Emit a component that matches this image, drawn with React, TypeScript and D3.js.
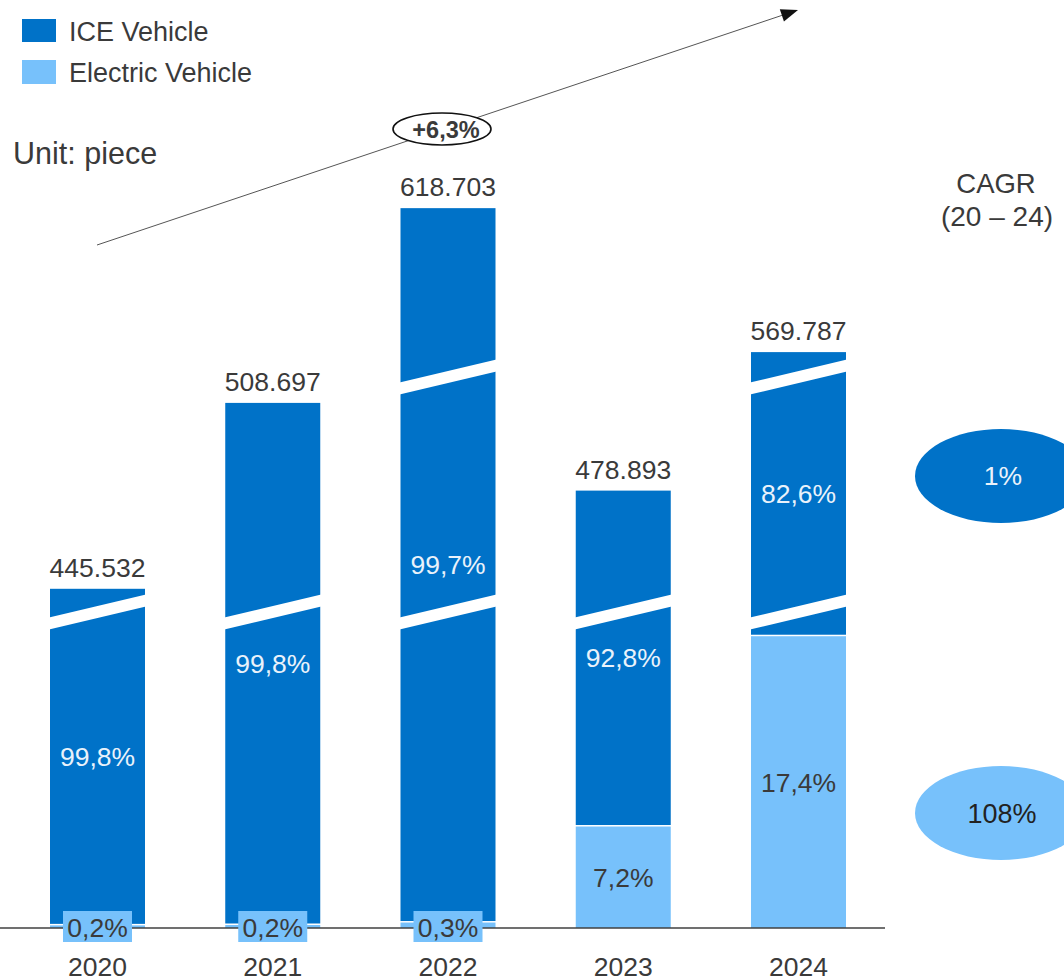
import React from "react";
import * as d3 from "d3";

// ---- data ----
const years = ["2020", "2021", "2022", "2023", "2024"];
const totals = [445532, 508697, 618703, 478893, 569787];
const iceShare = [99.8, 99.8, 99.7, 92.8, 82.6];
const evShare = [0.2, 0.2, 0.3, 7.2, 17.4];
const seriesNames = ["ICE Vehicle", "Electric Vehicle"];
const cagrValues = [1, 108];
const overallGrowth = 6.3;
// broken value axis: value ranges collapsed into a break band
const axisBreaks: [number, number][] = [
  [105335, 439685],
  [515458, 563368],
];

const W = 1064;
const H = 980;
const ICE = "#0072C8";
const EV = "#77C1FB";
const TXT = "#3a3a3a";
const FONT = "'Liberation Sans', Arial, sans-serif";
const FS = 26.5;

const locale = d3.formatLocale({
  decimal: ",",
  thousands: ".",
  grouping: [3],
  currency: ["", ""],
});
const fmtInt = locale.format(",d");
const fmtPct = (v: number) => locale.format(".1f")(v) + "%";
const fmtPct0 = (v: number) => locale.format("d")(v) + "%";

// broken-axis y scale
const baseline = 928;
const pxPerUnit = 0.002943;
const breakGap = 12;
const maxV = 650000;
const domain: number[] = [0];
const range: number[] = [baseline];
{
  let prevV = 0;
  let prevY = baseline;
  axisBreaks.forEach(([s, e]) => {
    const ys = prevY - (s - prevV) * pxPerUnit;
    domain.push(s, e);
    range.push(ys, ys - breakGap);
    prevV = e;
    prevY = ys - breakGap;
  });
  domain.push(maxV);
  range.push(prevY - (maxV - prevV) * pxPerUnit);
}
const y = d3.scaleLinear().domain(domain).range(range);
const x = d3.scalePoint<string>().domain(years).range([97.5, 798.5]);
const barW = 95;
const slant = 11.5;

export default function App() {
  const arrowStart = [97, 245];
  const arrowEnd = [798, 10];
  const dx = arrowEnd[0] - arrowStart[0];
  const dy = arrowEnd[1] - arrowStart[1];
  const len = Math.hypot(dx, dy);
  const ux = dx / len, uy = dy / len;
  const ah = 17, aw = 6.5;
  const bx = arrowEnd[0] - ux * ah, by = arrowEnd[1] - uy * ah;
  const arrowHead = [
    [arrowEnd[0], arrowEnd[1]],
    [bx - uy * aw, by + ux * aw],
    [bx + uy * aw, by - ux * aw],
  ];

  return (
    <svg
      width={W}
      height={H}
      style={{ position: "absolute", left: 0, top: 0, background: "#fff" }}
      fontFamily={FONT}
    >
      {/* legend */}
      <rect x={22} y={19} width={34} height={23} fill={ICE} />
      <text x={69} y={41} fontSize={27} fill={TXT}>{seriesNames[0]}</text>
      <rect x={22} y={60} width={34} height={24} fill={EV} />
      <text x={69} y={82} fontSize={27} fill={TXT}>{seriesNames[1]}</text>
      <text x={13} y={164} fontSize={30.5} fill={TXT}>Unit: piece</text>

      {/* trend arrow */}
      <line
        x1={arrowStart[0]}
        y1={arrowStart[1]}
        x2={bx}
        y2={by}
        stroke="#555"
        strokeWidth={1}
      />
      <polygon points={arrowHead.map((p) => p.join(",")).join(" ")} fill="#111" />
      <ellipse cx={442} cy={129} rx={49} ry={16} fill="#fff" stroke="#111" strokeWidth={1.6} />
      <text x={446} y={137.5} fontSize={23.5} fontWeight="bold" fill={TXT} textAnchor="middle">
        {"+" + locale.format(".1f")(overallGrowth) + "%"}
      </text>

      {/* bars */}
      {years.map((yr, i) => {
        const cx = x(yr)!;
        const xl = cx - barW / 2;
        const total = totals[i];
        const evVal = (total * evShare[i]) / 100;
        const yTop = y(total);
        const yEv = y(evVal);
        const evH = baseline - yEv;
        const iceBottom = yEv - 1.5;
        return (
          <g key={yr}>
            <rect x={xl} y={yEv} width={barW} height={evH} fill={EV} />
            <rect x={xl} y={yTop} width={barW} height={iceBottom - yTop} fill={ICE} />
            {axisBreaks
              .filter(([, e]) => total > e)
              .map(([s, e], j) => {
                const yb = y(s);
                const yt = y(e);
                const pts = [
                  [xl - 1, yt + slant],
                  [xl + barW + 1, yt - slant],
                  [xl + barW + 1, yb - slant],
                  [xl - 1, yb + slant],
                ];
                return (
                  <polygon key={j} points={pts.map((p) => p.join(",")).join(" ")} fill="#fff" />
                );
              })}
            <text x={cx} y={yTop - 12} fontSize={FS} fill={TXT} textAnchor="middle">
              {fmtInt(total)}
            </text>
            <text
              x={cx}
              y={(yTop + iceBottom) / 2 + 9.5}
              fontSize={FS}
              fill="#EAF2FB"
              textAnchor="middle"
            >
              {fmtPct(iceShare[i])}
            </text>
          </g>
        );
      })}

      {/* axis line */}
      <line x1={0} x2={885} y1={baseline} y2={baseline} stroke="#404040" strokeWidth={1.5} />

      {/* EV labels */}
      {years.map((yr, i) => {
        const cx = x(yr)!;
        const evVal = (totals[i] * evShare[i]) / 100;
        const yEv = y(evVal);
        const evH = baseline - yEv;
        if (evH > 30) {
          return (
            <text key={yr} x={cx} y={(yEv + baseline) / 2 + 9.5} fontSize={FS} fill={TXT} textAnchor="middle">
              {fmtPct(evShare[i])}
            </text>
          );
        }
        return (
          <g key={yr}>
            <rect x={cx - 34.5} y={911} width={69} height={31} fill={EV} />
            <text x={cx} y={936.5} fontSize={FS} fill={TXT} textAnchor="middle">
              {fmtPct(evShare[i])}
            </text>
          </g>
        );
      })}

      {/* year labels */}
      {years.map((yr) => (
        <text key={yr} x={x(yr)!} y={976} fontSize={FS} fill={TXT} textAnchor="middle">
          {yr}
        </text>
      ))}

      {/* CAGR */}
      <text x={996} y={193} fontSize={27.5} fill={TXT} textAnchor="middle">CAGR</text>
      <text x={997} y={226} fontSize={28} fill={TXT} textAnchor="middle">(20 – 24)</text>
      <ellipse cx={1001} cy={476} rx={86} ry={47} fill={ICE} />
      <text x={1003} y={485} fontSize={FS} fill="#EAF2FB" textAnchor="middle">
        {fmtPct0(cagrValues[0])}
      </text>
      <ellipse cx={1001} cy={813} rx={86} ry={47} fill={EV} />
      <text x={1002} y={822.5} fontSize={27} fill="#222" textAnchor="middle">
        {fmtPct0(cagrValues[1])}
      </text>
    </svg>
  );
}
